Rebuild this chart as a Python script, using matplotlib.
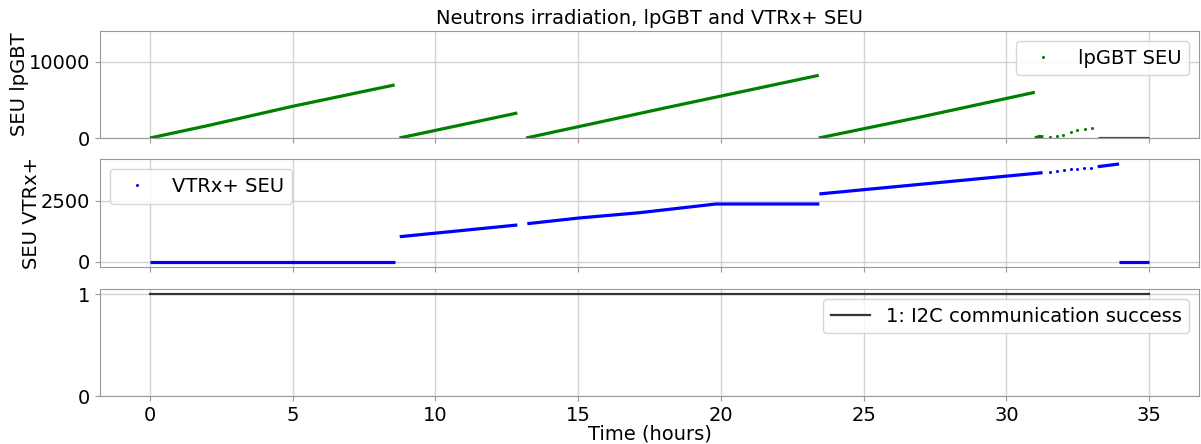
import matplotlib
matplotlib.use("Agg")
import matplotlib.pyplot as plt

# ---- data (hours, counts) ----
# lpGBT SEU: dense runs (continuous traces) and sparse points
lp_run1_t = [0.0, 2.0, 5.0, 8.57]
lp_run1_y = [0, 1600, 4150, 6940]
lp_run2_t = [8.74, 12.87]
lp_run2_y = [0, 3270]
lp_run3_t = [13.18, 18.0, 23.43]
lp_run3_y = [0, 3900, 8200]
lp_run4_t = [23.43, 27.0, 31.0]
lp_run4_y = [0, 2750, 5980]
lp_run5_t = [31.0, 31.15, 31.3]
lp_run5_y = [0, 200, 150]
lp_run6_t = [33.2, 35.0]
lp_run6_y = [50, 50]
lp_dots_t = [31.52, 31.77, 32.00, 32.26, 32.49, 32.76, 33.00]
lp_dots_y = [130, 220, 445, 745, 1010, 1140, 1310]

# VTRx+ SEU
vt_run1_t = [0.0, 8.57]
vt_run1_y = [0, 0]
vt_run2_t = [8.75, 12.87]
vt_run2_y = [1037, 1516]
vt_run3_t = [13.22, 15.03, 17.15, 19.83, 23.45]
vt_run3_y = [1570, 1803, 2020, 2377, 2377]
vt_run4_t = [23.45, 31.27]
vt_run4_y = [2790, 3660]
vt_run5_t = [33.2, 33.95]
vt_run5_y = [3906, 4016]
vt_run6_t = [33.93, 35.0]
vt_run6_y = [0, 0]
vt_dots_t = [31.52, 31.77, 32.01, 32.26, 32.49, 32.72, 32.96]
vt_dots_y = [3689, 3730, 3758, 3799, 3811, 3840, 3865]

# I2C status
i2c_t = [0.0, 35.0]
i2c_ok = [1, 1]

plt.rcParams['font.size'] = 14
plt.rcParams['font.family'] = ['DejaVu Sans']

fig = plt.figure(figsize=(12.01, 4.44), dpi=100)
L, W = 100 / 1201, 1099 / 1201
ax1 = fig.add_axes([L, 1 - 138 / 444, W, 107 / 444])
ax2 = fig.add_axes([L, 1 - 266.7 / 444, W, 107.4 / 444], sharex=ax1)
ax3 = fig.add_axes([L, 1 - 396 / 444, W, 107 / 444], sharex=ax1)

green = '#008000'
blue = '#0000ff'
lw = 2.3

for t, y in [(lp_run1_t, lp_run1_y), (lp_run2_t, lp_run2_y), (lp_run3_t, lp_run3_y),
             (lp_run4_t, lp_run4_y), (lp_run5_t, lp_run5_y), (lp_run6_t, lp_run6_y)]:
    ax1.plot(t, y, color=green, lw=lw, solid_capstyle='butt')
ax1.plot(lp_dots_t, lp_dots_y, 'o', color=green, ms=2.2, mew=0, label='lpGBT SEU')

for t, y in [(vt_run1_t, vt_run1_y), (vt_run2_t, vt_run2_y), (vt_run3_t, vt_run3_y),
             (vt_run4_t, vt_run4_y), (vt_run5_t, vt_run5_y), (vt_run6_t, vt_run6_y)]:
    ax2.plot(t, y, color=blue, lw=lw, solid_capstyle='butt')
ax2.plot(vt_dots_t, vt_dots_y, 'o', color=blue, ms=2.2, mew=0, label='VTRx+ SEU')

ax3.plot(i2c_t, i2c_ok, color='#333333', lw=1.6, label='1: I2C communication success')

ax1.set_xlim(-1.75, 36.75)
ax1.set_ylim(0, 14000)
ax1.set_yticks([0, 10000])
ax2.set_ylim(-193, 4209)
ax2.set_yticks([0, 2500])
ax3.set_ylim(0, 1.05)
ax3.set_yticks([0, 1])
ax3.set_xticks([0, 5, 10, 15, 20, 25, 30, 35])

for ax in (ax1, ax2, ax3):
    ax.grid(True, color='#d3d3d3', lw=1)
    ax.set_axisbelow(True)
    for s in ax.spines.values():
        s.set_color('#999999')
    ax.tick_params(color='#999999', labelcolor='black')
for ax in (ax1, ax2):
    ax.tick_params(labelbottom=False)

ax1.set_ylabel('SEU lpGBT', labelpad=0)
ax2.set_ylabel('SEU VTRx+', labelpad=0)
ax3.set_xlabel('Time (hours)', labelpad=0)
ax1.set_title('Neutrons irradiation, lpGBT and VTRx+ SEU', fontsize=14, pad=5)

ax1.legend(loc='upper right')
ax2.legend(loc='upper left')
ax3.legend(loc='upper right')

fig.savefig('out.png', dpi=100)
